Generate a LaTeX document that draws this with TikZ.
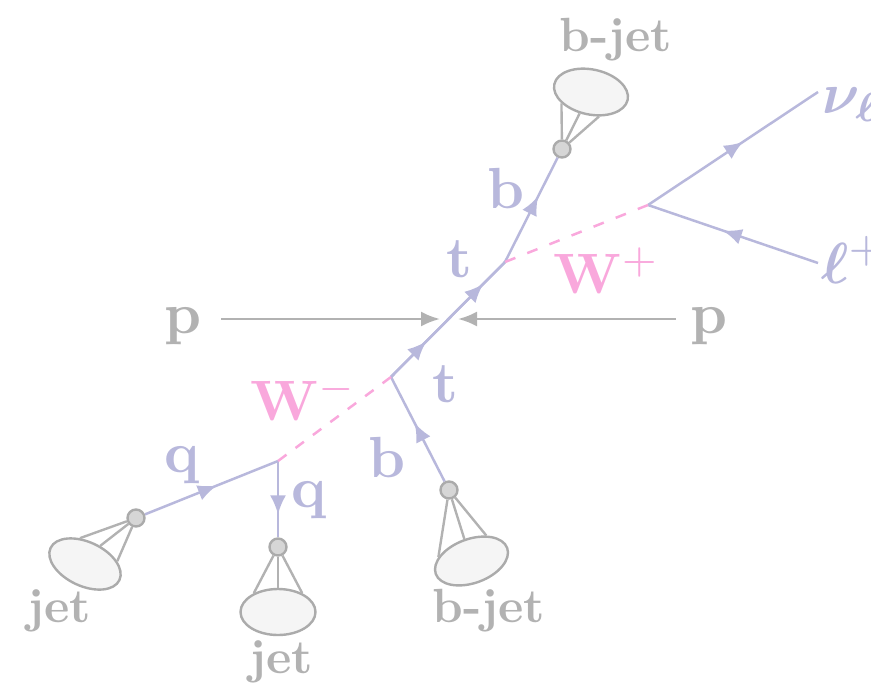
\documentclass[tikz,border=0pt]{standalone}
\usepackage{bm}
\usetikzlibrary{arrows.meta,decorations.markings,shapes.geometric}
\definecolor{fermion}{HTML}{B8B8DC}
\definecolor{boson}{HTML}{F9A8DC}
\definecolor{jetgray}{HTML}{B2B2B2}
\definecolor{rimgray}{HTML}{ABABAB}
\tikzset{
  fermline/.style={draw=fermion,line width=2.5pt},
  bosonline/.style={draw=boson,line width=2.5pt},
  beamline/.style={draw=jetgray,line width=2.5pt,-{Latex[length=19pt,width=15pt]}},
  spray/.style={draw=jetgray,line width=2.4pt},
  midtip/.style={postaction={decorate},decoration={markings,mark=at position #1 with {\arrow{Latex[length=19pt,width=16pt]}}}},
  blob/.style={circle,draw=rimgray,fill=black!16,line width=2.4pt,minimum size=17pt,inner sep=0pt},
  cone/.style={ellipse,draw=rimgray,fill=black!4,line width=2.4pt,inner sep=0pt},
  fermlab/.style={text=fermion,scale=5.8,anchor=base,inner sep=0pt},
  bosonlab/.style={text=boson,scale=5.7,anchor=base west,inner sep=0pt},
  beamlab/.style={text=jetgray,scale=5.8,anchor=base,inner sep=0pt,font=\bfseries},
  jetlab/.style={text=jetgray,scale=4.8,anchor=base,inner sep=0pt,font=\bfseries},
}
\begin{document}
\begin{tikzpicture}[x=1pt,y=-1pt]
\useasboundingbox (0,0) rectangle (871,689);
% vertices and free ends
\coordinate (vtop) at (505,262);
\coordinate (vbot) at (391,377);
\coordinate (wp) at (648,205);
\coordinate (wm) at (278,461);
\coordinate (nuend) at (818,92);
\coordinate (lepend) at (818,263);
\coordinate (pLa) at (221,319);
\coordinate (pLb) at (440,319);
\coordinate (pRa) at (676,319);
\coordinate (pRb) at (458,319);
% jet cones
\node[cone,minimum width=75pt,minimum height=45pt,rotate=-12] (coneT) at (591,92) {};
\node[cone,minimum width=76pt,minimum height=44pt,rotate=-25] (coneL) at (85,564) {};
\node[cone,minimum width=75pt,minimum height=46pt] (coneM) at (278,612) {};
\node[cone,minimum width=76pt,minimum height=44pt,rotate=20] (coneB) at (471.5,561) {};
% jet vertices
\node[blob] (blobT) at (562,149) {};
\node[blob] (blobL) at (136,518) {};
\node[blob] (blobM) at (278,547) {};
\node[blob] (blobB) at (449,490) {};
% sprays
\draw[spray] (blobT) -- (coneT.213);
\draw[spray] (blobT) -- (coneT.254);
\draw[spray] (blobT) -- (coneT.300);
\draw[spray] (blobL) -- (coneL.126);
\draw[spray] (blobL) -- (coneL.75);
\draw[spray] (blobL) -- (coneL.30);
\draw[spray] (blobM) -- (coneM.142);
\draw[spray] (blobM) -- (coneM.90);
\draw[spray] (blobM) -- (coneM.38);
\draw[spray] (blobB) -- (coneB.153);
\draw[spray] (blobB) -- (coneB.88);
\draw[spray] (blobB) -- (coneB.40);
% beams
\draw[beamline] (pLa) -- (pLb);
\draw[beamline] (pRa) -- (pRb);
% fermions
\path[fermline,midtip=0.31] (vbot) -- (vtop);
\path[fermline,midtip=0.81] (vbot) -- (vtop);
\path[fermline,midtip=0.63] (vtop) -- (blobT);
\path[fermline,midtip=0.56] (wp) -- (nuend);
\path[fermline,midtip=0.56] (lepend) -- (wp);
\path[fermline,midtip=0.56] (blobB) -- (vbot);
\path[fermline,midtip=0.54] (blobL) -- (wm);
\path[fermline,midtip=0.70] (wm) -- (blobM);
% W bosons
\draw[bosonline,dash pattern=on 11pt off 12.8pt] (wp) -- (vtop);
\draw[bosonline,dash pattern=on 10.5pt off 11.2pt] (vbot) -- (wm);
% labels
\node[fermlab,anchor=base west] (nuL) at (821,113) {$\bm{\nu}_{\bm{\ell}}$};
\node[fermlab,anchor=base west] (lepL) at (820,283) {$\bm{\ell}^{+}$};
\node[fermlab] (bU) at (506,208) {$\mathbf{b}$};
\node[fermlab] (tU) at (459,277) {$\mathbf{t}$};
\node[fermlab] (tD) at (445,402) {$\mathbf{t}$};
\node[fermlab] (bD) at (387,477) {$\mathbf{b}$};
\node[fermlab] (qL) at (182,472) {$\mathbf{q}$};
\node[fermlab] (qR) at (309,507) {$\mathbf{q}$};
\node[bosonlab] (wpL) at (552,293) {$\mathbf{W}^{+}$};
\node[bosonlab] (wmL) at (249,420) {$\mathbf{W}^{-}$};
\node[beamlab] (pL) at (183,333) {p};
\node[beamlab] (pR) at (709,333) {p};
\node[jetlab] (jT) at (616,51) {b-jet};
\node[jetlab] (jB) at (489,622) {b-jet};
\node[jetlab] (jL) at (59,622) {jet};
\node[jetlab] (jM) at (281,673) {jet};
\end{tikzpicture}
\end{document}
